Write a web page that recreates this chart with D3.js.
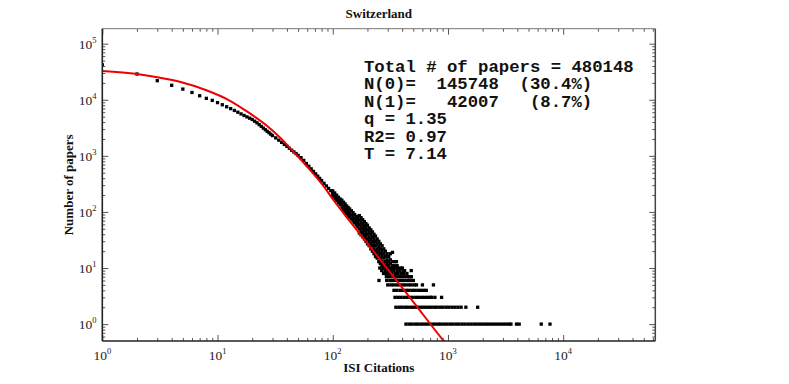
<!DOCTYPE html>
<html>
<head>
<meta charset="utf-8">
<script src="https://cdn.jsdelivr.net/npm/d3@7"></script>
<style>
  body { margin: 0; background: #fff; }
  svg { display: block; }
  .tick-label { font-family: "Liberation Serif", "Times New Roman", serif; font-size: 13.5px; fill: #222; }
  .axis-title { font-family: "Liberation Serif", "Times New Roman", serif; font-size: 13px; font-weight: bold; fill: #111; }
  .stats { font-family: "Liberation Mono", "Courier New", monospace; font-size: 17.3px; font-weight: bold; fill: #111; white-space: pre; }
</style>
</head>
<body>
<div id="chart"></div>
<script>
// citations 1..20, one dot each
const lowCites = [1, 2, 3, 4, 5, 6, 7, 8, 9, 10, 11, 12, 13, 14, 15, 16, 17, 18, 19, 20];
const lowCounts = [42007, 28800, 21900, 18100, 15500, 13500, 11800, 10600, 9750, 8900,
                   8150, 7500, 6950, 6450, 6000, 5600, 5250, 4950, 4700, 4450];

// the thin band between ~20 and ~100 citations
const bandCites = [21, 22, 23, 24, 25, 26, 27, 28, 29, 30, 32, 34, 36, 38, 40, 42, 44, 46, 48, 50,
                   53, 56, 59, 62, 65, 68, 71, 74, 77, 80, 84, 88, 92, 96];
const bandCounts = [4150, 3880, 3600, 3350, 3120, 2920, 2740, 2580, 2430, 2300, 2090, 1905, 1740, 1600,
                    1480, 1365, 1260, 1175, 1100, 1020, 930, 830, 731, 653, 586, 528, 478, 434, 396, 363,
                    324, 291, 263, 239];

// the wider cloud, 100..360 citations (several counts per citation value)
const cloudCites = [100, 104, 108, 112, 116, 120, 124, 128, 132, 136, 140, 145, 150, 155, 160, 165,
                    170, 176, 182, 188, 194, 200, 207, 214, 221, 228, 235, 243, 251, 259, 268, 277,
                    286, 296, 306, 316, 330, 345, 357, 362];
const cloudCounts = [
  [190, 214, 238], [174, 196, 218], [160, 180, 199], [146, 165, 183], [135, 152, 170],
  [118, 138, 162], [109, 127, 149], [101, 118, 139], [93, 110, 128], [87, 102, 120],
  [81, 95, 113], [75, 88, 105], [69, 82, 97], [64, 76, 90], [59, 70, 83], [54, 65, 77],
  [42, 50, 60, 72, 86], [39, 46, 55, 66, 79], [36, 43, 51, 61, 73], [33, 39, 47, 56, 67],
  [30, 36, 43, 52, 62], [27, 33, 40, 48, 58], [25, 30, 36, 43, 52], [22, 27, 33, 40, 48],
  [20, 25, 30, 36, 44], [18, 22, 27, 33, 40], [16, 20, 25, 30, 37], [15, 18, 22, 27, 33],
  [13, 16, 20, 24, 30], [12, 15, 18, 22, 27], [11, 13, 16, 20, 25], [11, 12, 15, 18, 22],
  [11, 13, 16, 20], [11, 12, 14, 18], [11, 13, 16], [12, 14, 18],
  [11, 13, 19], [11, 13], [13], [11]
];

// tail: citation values seen on the rows with 1, 2, ... 10 papers
const row1 = [432, 459, 485, 516, 546, 581, 614, 653, 691, 735, 778, 827, 875, 930, 985, 1047, 1108,
              1178, 1247, 1325, 1404, 1491, 1580, 1678, 1778, 1888, 2001, 2125, 2252, 2391, 2535,
              2691, 2853, 3029, 3211, 3409, 3520, 3930, 4150, 6450, 7680];
const row2 = [353, 375, 397, 422, 446, 475, 502, 535, 565, 602, 636, 677, 716, 762, 806, 857, 907,
              965, 1021, 1086, 1150, 1222, 1300, 1430, 1810];
const row3 = [347, 368, 390, 415, 439, 467, 494, 526, 556, 592, 626, 666, 704, 720, 770, 880];
const row4 = [340, 360, 384, 405, 432, 456, 486, 514, 547, 578, 615, 648];
const row5 = [300, 319, 337, 359, 379, 404, 427, 455, 480, 511, 533, 600, 748];
const row6 = [252, 294, 313, 330, 352, 371, 396, 418, 446, 471, 500];
const row7 = [292, 311, 332, 350, 373, 394, 420, 444, 466, 481];
const row8 = [276, 291, 308, 325, 347, 366, 390, 412, 440];
const row9 = [266, 284, 301, 321, 339, 362, 382, 407, 420, 480];
const row10 = [256, 272, 289, 305, 324, 344, 365, 387, 402];
const tailRows = [row1, row2, row3, row4, row5, row6, row7, row8, row9, row10];

// fitted curve
const fitCites = [1, 2, 3, 4.7, 8, 12.5, 18, 27, 35, 42, 60, 83, 101, 141, 200, 300, 500, 900, 1000];
const fitCounts = [32600, 28800, 25300, 21000, 14800, 9900, 6200, 3400, 2100, 1420, 640, 290, 165,
                   68, 27.4, 9.5, 2.5, 0.53, 0.41];

const xMajor = [1, 10, 100, 1000, 10000];
const yMajor = [1, 10, 100, 1000, 10000, 100000];

const statLines = [
  "Total # of papers = 480148",
  "N(0)=  145748  (30.4%)",
  "N(1)=   42007   (8.7%)",
  "q = 1.35",
  "R2= 0.97",
  "T = 7.14"
];

const W = 789, H = 384;
const box = {left: 102.3, right: 655.3, top: 28.7, bottom: 341};

const svg = d3.select('#chart').append('svg')
    .attr('width', W)
    .attr('height', H);

svg.append('rect').attr('width', W).attr('height', H).attr('fill', '#fff');

const x = d3.scaleLog().domain([1, 63000]).range([box.left, box.right]);
const y = d3.scaleLog().domain([0.5, 1.85e5]).range([box.bottom, box.top]);

svg.append('clipPath').attr('id', 'plot-clip')
  .append('rect')
    .attr('x', box.left).attr('y', box.top)
    .attr('width', box.right - box.left).attr('height', box.bottom - box.top);

// collect all dots
const points = [];
lowCites.forEach((c, i) => points.push([c, lowCounts[i]]));
bandCites.forEach((c, i) => points.push([c, bandCounts[i]]));
cloudCites.forEach((c, i) => cloudCounts[i].forEach(n => points.push([c, n])));
tailRows.forEach((row, i) => row.forEach(c => points.push([c, i + 1])));

const ms = 3.3;
svg.append('g')
    .attr('clip-path', 'url(#plot-clip)')
  .selectAll('rect')
  .data(points)
  .join('rect')
    .attr('x', d => x(d[0]) - ms / 2)
    .attr('y', d => y(d[1]) - ms / 2)
    .attr('width', ms)
    .attr('height', ms)
    .attr('fill', '#000');

// red fit line
const line = d3.line()
    .x(d => x(d))
    .y((d, i) => y(fitCounts[i]))
    .curve(d3.curveMonotoneX);

svg.append('path')
    .attr('clip-path', 'url(#plot-clip)')
    .attr('d', line(fitCites))
    .attr('fill', 'none')
    .attr('stroke', '#ee0000')
    .attr('stroke-width', 2);

// ticks, all pointing inward
const isPow = v => Math.abs(Math.log10(v) - Math.round(Math.log10(v))) < 1e-9;
const xMinor = x.ticks().filter(v => !isPow(v));
const yMinor = y.ticks().filter(v => !isPow(v) && v > 0.5);

function tickGroup(axis, tx, ty) {
  svg.append('g')
      .attr('transform', `translate(${tx},${ty})`)
      .call(axis)
      .call(g => g.select('.domain').remove())
      .call(g => g.selectAll('line').attr('stroke', '#555'));
}
tickGroup(d3.axisBottom(x).tickValues(xMajor).tickSize(-6).tickFormat(''), 0, box.bottom);
tickGroup(d3.axisBottom(x).tickValues(xMinor).tickSize(-3).tickFormat(''), 0, box.bottom);
tickGroup(d3.axisTop(x).tickValues(xMajor).tickSize(-6).tickFormat(''), 0, box.top);
tickGroup(d3.axisTop(x).tickValues(xMinor).tickSize(-3).tickFormat(''), 0, box.top);
tickGroup(d3.axisLeft(y).tickValues(yMajor).tickSize(-6).tickFormat(''), box.left, 0);
tickGroup(d3.axisLeft(y).tickValues(yMinor).tickSize(-3).tickFormat(''), box.left, 0);
tickGroup(d3.axisRight(y).tickValues(yMajor).tickSize(-6).tickFormat(''), box.right, 0);
tickGroup(d3.axisRight(y).tickValues(yMinor).tickSize(-3).tickFormat(''), box.right, 0);

// frame
svg.append('line').attr('x1', box.left).attr('x2', box.right).attr('y1', box.top).attr('y2', box.top)
    .attr('stroke', '#777').attr('stroke-width', 1);
svg.append('line').attr('x1', box.right).attr('x2', box.right).attr('y1', box.top).attr('y2', box.bottom)
    .attr('stroke', '#444').attr('stroke-width', 1.5);
svg.append('line').attr('x1', box.left).attr('x2', box.right).attr('y1', box.bottom).attr('y2', box.bottom)
    .attr('stroke', '#222').attr('stroke-width', 1.6);
svg.append('line').attr('x1', box.left).attr('x2', box.left).attr('y1', box.top).attr('y2', box.bottom)
    .attr('stroke', '#222').attr('stroke-width', 1.6);

// tick labels 10^n
function powLabel(sel) {
  sel.each(function(d) {
    const t = d3.select(this);
    t.append('tspan').text('10');
    t.append('tspan').attr('dy', -6).attr('font-size', '8.5px').text(Math.round(Math.log10(d)));
  });
}
svg.append('g').selectAll('text')
  .data(xMajor)
  .join('text')
    .attr('class', 'tick-label')
    .attr('x', d => x(d))
    .attr('y', 360)
    .attr('text-anchor', 'middle')
    .call(powLabel);

svg.append('g').selectAll('text')
  .data(yMajor)
  .join('text')
    .attr('class', 'tick-label')
    .attr('x', 96.5)
    .attr('y', d => y(d) + 5)
    .attr('text-anchor', 'end')
    .call(powLabel);

// titles
const cx = (box.left + box.right) / 2;
svg.append('text').attr('class', 'axis-title')
    .attr('x', cx).attr('y', 18).attr('text-anchor', 'middle')
    .text('Switzerland');
svg.append('text').attr('class', 'axis-title')
    .attr('x', cx).attr('y', 372).attr('text-anchor', 'middle')
    .text('ISI Citations');
svg.append('text').attr('class', 'axis-title')
    .attr('transform', `translate(73,${(box.top + box.bottom) / 2}) rotate(-90)`)
    .attr('text-anchor', 'middle')
    .text('Number of papers');

// fit statistics
svg.append('g').selectAll('text')
  .data(statLines)
  .join('text')
    .attr('class', 'stats')
    .attr('xml:space', 'preserve')
    .attr('x', 364)
    .attr('y', (d, i) => 71.5 + i * 17.5)
    .text(d => d);
</script>
</body>
</html>
